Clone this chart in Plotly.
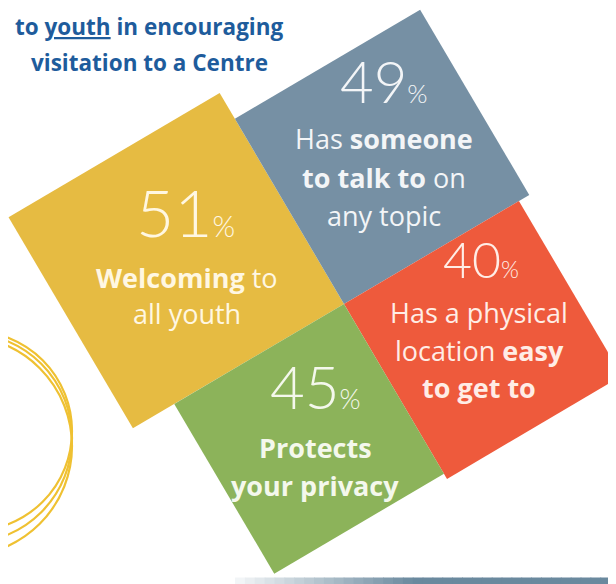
import math
import plotly.graph_objects as go

# ---------------- data ----------------
categories = ["Welcoming to all youth",
              "Has someone to talk to on any topic",
              "Has a physical location easy to get to",
              "Protects your privacy"]
values = [51, 49, 40, 45]
label_lines = [
    ["<b>Welcoming</b> to", "all youth"],
    ["Has <b>someone</b>", "<b>to talk to</b> on", "any topic"],
    ["Has a physical", "location <b>easy</b>", "<b>to get to</b>"],
    ["<b>Protects</b>", "<b>your privacy</b>"],
]
title_lines = ["to <span style='text-decoration:underline'>youth</span> in encouraging",
               "visitation to a Centre"]

# ---------------- style / layout ----------------
W, H = 616, 584
OFF = 8  # page body margin compensation
colors = ["#E6BB42", "#7690A4", "#EE5A3C", "#8CB35A"]
text_colors = ["#FFF7E2", "#F3F5F7", "#FFEDE6", "#F4F8EC"]
sides = [245, 215, 203, 197]
# quadrant of each square relative to the shared corner (along u, along v)
quad = [(-1, -1), (1, -1), (1, 1), (-1, 1)]
center = (344, 304)
theta = math.radians(30.5)
u = (math.cos(theta), -math.sin(theta))   # up-right in pixel coords
v = (math.sin(theta), math.cos(theta))    # down-right in pixel coords

num_size = [66, 58, 50, 60]
pct_size = [29, 26, 23, 27]
txt_size = [27, 27, 27, 27]
num_pos = [(185, 211), (384, 80), (481, 259), (315, 386)]
line_x = [187, 384, 479, 315]
line_y = [[277, 313], [138, 177, 215], [312, 350, 387], [447, 485]]

fig = go.Figure()

# squares
for i, val in enumerate(values):
    s = sides[i]
    a, b = quad[i]
    cx, cy = center
    pts = [(cx, cy),
           (cx + a * s * u[0], cy + a * s * u[1]),
           (cx + a * s * u[0] + b * s * v[0], cy + a * s * u[1] + b * s * v[1]),
           (cx + b * s * v[0], cy + b * s * v[1])]
    xs = [p[0] for p in pts] + [pts[0][0]]
    ys = [p[1] for p in pts] + [pts[0][1]]
    fig.add_trace(go.Scatter(x=xs, y=ys, fill="toself", mode="lines",
                             line=dict(width=0, color=colors[i]),
                             fillcolor=colors[i], hoverinfo="text",
                             text=f"{categories[i]}: {val}%", showlegend=False))

# decorative yellow arcs on the left
arcs = [(-28, 431, 100), (-33, 438, 105), (-38, 446, 110)]
shapes = []
for (ax, ay, r) in arcs:
    shapes.append(dict(type="circle", xref="x", yref="y",
                       x0=ax - r, x1=ax + r, y0=ay - r, y1=ay + r,
                       line=dict(color="#EFC132", width=2.2)))

# bottom gradient bar (smooth: light -> blue-grey)
c_start, c_end = (242, 245, 247), (106, 137, 158)
x0, x1 = 235, 630
nseg = 40
seg = (x1 - x0) / nseg
for k in range(nseg):
    t = min(1.0, (k / (nseg - 1)) * 2.2)
    c = tuple(int(c_start[m] + (c_end[m] - c_start[m]) * t) for m in range(3))
    shapes.append(dict(type="rect", xref="x", yref="y",
                       x0=x0 + k * seg, x1=x0 + (k + 1) * seg + 0.8, y0=577.5, y1=592,
                       line=dict(width=0), fillcolor="rgb(%d,%d,%d)" % c))

annotations = []
for i, val in enumerate(values):
    annotations.append(dict(
        x=num_pos[i][0], y=num_pos[i][1], xref="x", yref="y",
        text=f"{val}<span style='font-size:{pct_size[i]}px'>%</span>",
        showarrow=False, xanchor="center", yanchor="middle",
        font=dict(family="Lato", size=num_size[i], color=text_colors[i], weight=300)))
    for j, line in enumerate(label_lines[i]):
        annotations.append(dict(
            x=line_x[i], y=line_y[i][j], xref="x", yref="y", text=line,
            showarrow=False, xanchor="center", yanchor="middle",
            font=dict(family="Open Sans", size=txt_size[i], color=text_colors[i])))

title_y = [9, 45]
for j, t in enumerate(title_lines):
    annotations.append(dict(
        x=149, y=title_y[j], xref="x", yref="y", text=f"<b>{t}</b>",
        showarrow=False, xanchor="center", yanchor="top",
        font=dict(family="Open Sans", size=22.5, color="#1E5C9C")))

fig.update_layout(
    width=W, height=H, margin=dict(l=0, r=0, t=0, b=0),
    paper_bgcolor="white", plot_bgcolor="white",
    xaxis=dict(range=[OFF, W + OFF], visible=False, fixedrange=True),
    yaxis=dict(range=[H + OFF, OFF], visible=False, fixedrange=True),
    shapes=shapes, annotations=annotations, showlegend=False,
)

fig.write_html("out.html")
